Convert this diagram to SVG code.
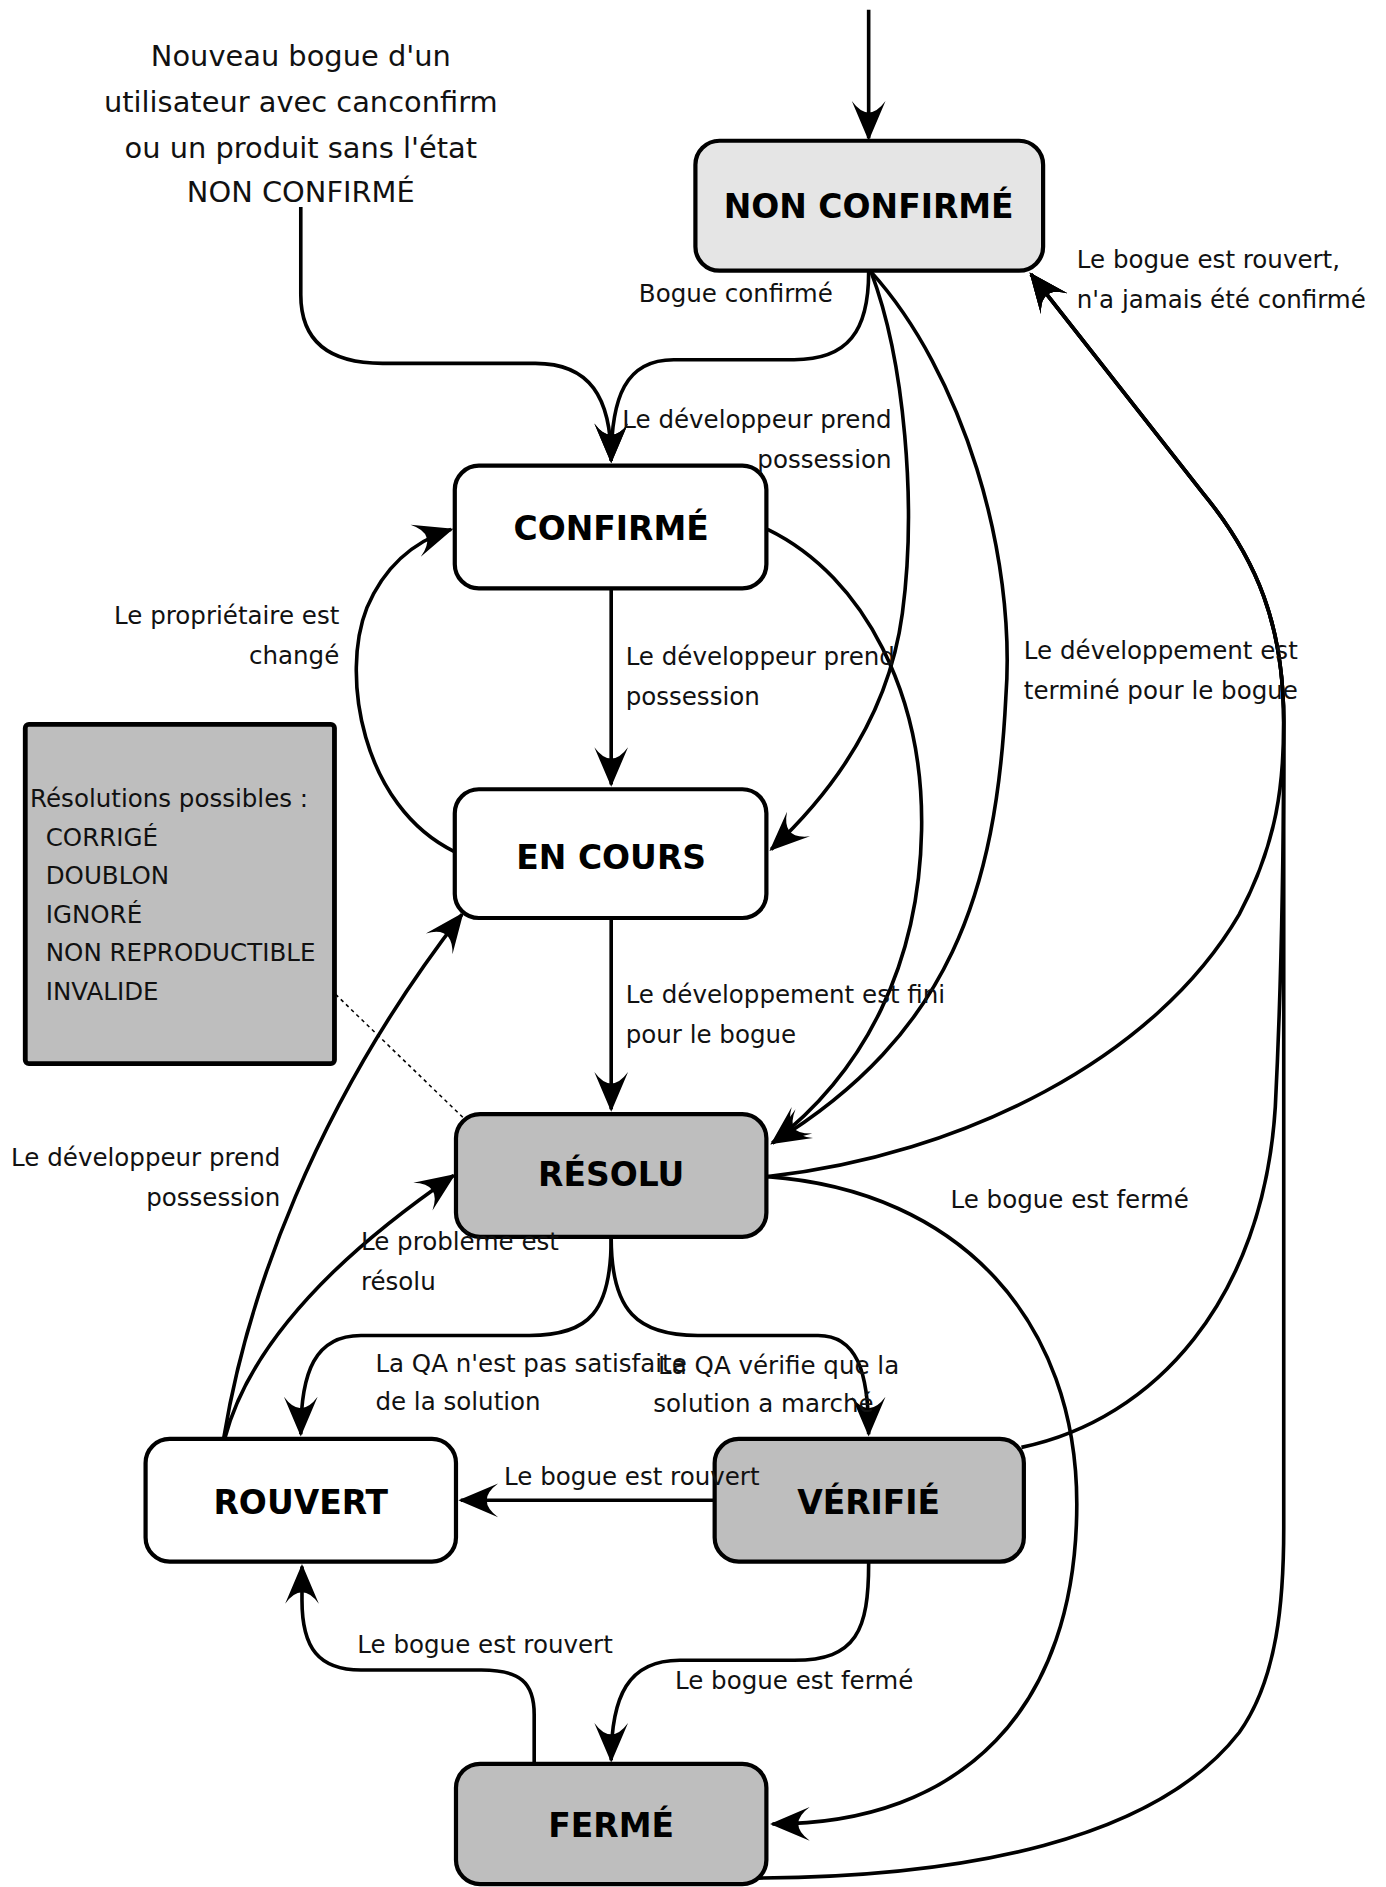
<svg xmlns="http://www.w3.org/2000/svg" width="1386" height="1887" viewBox="0 0 1386 1887">
<style>
.node{stroke:#000;stroke-width:3.5}
.w{fill:#fff}
.g{fill:#bebebe}
.lg{fill:#e5e5e5}
.title{font-family:"DejaVu Sans",sans-serif;font-weight:bold;font-size:27.4px;text-anchor:middle;fill:#000}
.lbl{font-family:"DejaVu Sans",sans-serif;font-size:20.4px;fill:#111}
.end{text-anchor:end}
.top{font-family:"DejaVu Sans",sans-serif;font-size:24px;text-anchor:middle;fill:#111}
.c{fill:none;stroke:#000;stroke-width:3;marker-end:url(#ah)}
.cn{fill:none;stroke:#000;stroke-width:3}
.dot{fill:none;stroke:#000;stroke-width:1.3;stroke-dasharray:3 3}
</style>
<defs>
<marker id="ah" markerUnits="userSpaceOnUse" viewBox="-40 -20 45 40" markerWidth="45" markerHeight="40" refX="-2" refY="0" orient="auto" overflow="visible">
<path d="M0,0 L-33,-14 Q-14,0 -33,14 Z" fill="#000"/>
</marker>
</defs>
<rect width="1386" height="1887" fill="#fff"/>
<g transform="scale(1.203125)">
<g id="connectors">
<path class="c" d="M722,8 L722,115"/>
<path class="c" d="M250,172 L250,245 C250,285 275,302 318,302 L445,302 C490,302 508,330 508,383"/>
<path class="c" d="M722,226 C722,275 705,299 660,299 L560,299 C520,299 508,330 508,383"/>
<path class="c" d="M724,226 C752,300 762,420 750,510 C738,600 685,665 641,706"/>
<path class="c" d="M724,226 C800,310 845,460 836,580 C828,740 790,860 642,950"/>
<path class="c" d="M638,440 C720,480 768,580 766,690 C764,800 720,890 642,950"/>
<path class="c" d="M508,490 L508,652"/>
<path class="c" d="M508,764 L508,922"/>
<path class="c" d="M378,708 C300,670 283,560 305,505 C322,465 350,448 375,440"/>
<path class="c" d="M186,1195 C205,1080 260,920 384,760"/>
<path class="c" d="M187,1195 C215,1090 335,1006 377,977"/>
<path class="c" d="M508,1029 C508,1090 490,1110 440,1110 L300,1110 C262,1110 250,1140 250,1192"/>
<path class="c" d="M508,1029 C508,1090 530,1110 580,1110 L680,1110 C712,1110 722,1140 722,1192"/>
<path class="c" d="M594,1247 L383,1247"/>
<path class="c" d="M722,1299 C722,1355 712,1380 660,1380 L565,1380 C522,1380 508,1410 508,1463"/>
<path class="c" d="M444,1466 L444,1425 C444,1398 432,1388 400,1388 L300,1388 C265,1388 251,1370 251,1330 L251,1302"/>
<path class="c" d="M638,978 C800,990 895,1100 895,1250 C895,1420 800,1516 642,1516"/>
<path class="c" d="M638,978 C800,960 960,880 1030,760 C1062,700 1067,650 1067,600 C1067,520 1045,465 1000,410 L857,228"/>
<path class="c" d="M849,1203 C960,1180 1050,1080 1060,920 C1066,800 1067,700 1067,600 C1067,520 1045,465 1000,410 L857,228"/>
<path class="c" d="M630,1561 C800,1560 960,1530 1030,1440 C1062,1395 1067,1330 1067,1270 L1067,600 C1067,520 1045,465 1000,410 L857,228"/>
<path class="dot" d="M266,814 L385,929"/>
</g>
<g id="note">
<rect x="21" y="602" width="257" height="282" rx="3" fill="#bebebe" stroke="#000" stroke-width="4"/>
<text class="lbl" x="25" y="671">Résolutions possibles :</text>
<text class="lbl" x="38" y="703">CORRIGÉ</text>
<text class="lbl" x="38" y="735">DOUBLON</text>
<text class="lbl" x="38" y="767">IGNORÉ</text>
<text class="lbl" x="38" y="799">NON REPRODUCTIBLE</text>
<text class="lbl" x="38" y="831">INVALIDE</text>
</g>
<g id="start-text">
<text class="top" x="250" y="55">Nouveau bogue d'un</text>
<text class="top" x="250" y="93">utilisateur avec canconfirm</text>
<text class="top" x="250" y="131">ou un produit sans l'état</text>
<text class="top" x="250" y="168">NON CONFIRMÉ</text>
</g>
<g id="n-nonconfirme">
<rect class="node lg" x="578" y="117" width="289" height="108" rx="20"/>
<text class="title" x="722" y="181">NON CONFIRMÉ</text>
</g>
<g id="n-confirme">
<rect class="node w" x="378" y="387" width="259" height="102" rx="20"/>
<text class="title" x="508" y="449">CONFIRMÉ</text>
</g>
<g id="n-encours">
<rect class="node w" x="378" y="656" width="259" height="107" rx="20"/>
<text class="title" x="508" y="722">EN COURS</text>
</g>
<g id="n-resolu">
<rect class="node g" x="379" y="926" width="258" height="102" rx="20"/>
<text class="title" x="508" y="986">RÉSOLU</text>
</g>
<g id="n-rouvert">
<rect class="node w" x="121" y="1196" width="258" height="102" rx="20"/>
<text class="title" x="250" y="1258">ROUVERT</text>
</g>
<g id="n-verifie">
<rect class="node g" x="594" y="1196" width="257" height="102" rx="20"/>
<text class="title" x="722" y="1258">VÉRIFIÉ</text>
</g>
<g id="n-ferme">
<rect class="node g" x="379" y="1466" width="258" height="100" rx="20"/>
<text class="title" x="508" y="1527">FERMÉ</text>
</g>
<g id="labels">
<text class="lbl" x="531" y="251">Bogue confirmé</text>
<text class="lbl" x="895" y="223">Le bogue est rouvert,</text>
<text class="lbl" x="895" y="256">n'a jamais été confirmé</text>
<text class="lbl end" x="741" y="356">Le développeur prend</text>
<text class="lbl end" x="741" y="389">possession</text>
<text class="lbl end" x="282" y="519">Le propriétaire est</text>
<text class="lbl end" x="282" y="552">changé</text>
<text class="lbl" x="520" y="553">Le développeur prend</text>
<text class="lbl" x="520" y="586">possession</text>
<text class="lbl" x="851" y="548">Le développement est</text>
<text class="lbl" x="851" y="581">terminé pour le bogue</text>
<text class="lbl" x="520" y="834">Le développement est fini</text>
<text class="lbl" x="520" y="867">pour le bogue</text>
<text class="lbl end" x="233" y="969">Le développeur prend</text>
<text class="lbl end" x="233" y="1002">possession</text>
<text class="lbl" x="300" y="1039">Le problème est</text>
<text class="lbl" x="300" y="1072">résolu</text>
<text class="lbl" x="790" y="1004">Le bogue est fermé</text>
<text class="lbl" x="312" y="1140">La QA n'est pas satisfaite</text>
<text class="lbl" x="312" y="1172">de la solution</text>
<text class="lbl" x="547" y="1142">La QA vérifie que la</text>
<text class="lbl" x="543" y="1174">solution a marché</text>
<text class="lbl" x="419" y="1234">Le bogue est rouvert</text>
<text class="lbl" x="297" y="1374">Le bogue est rouvert</text>
<text class="lbl" x="561" y="1404">Le bogue est fermé</text>
</g>
</g>
</svg>
